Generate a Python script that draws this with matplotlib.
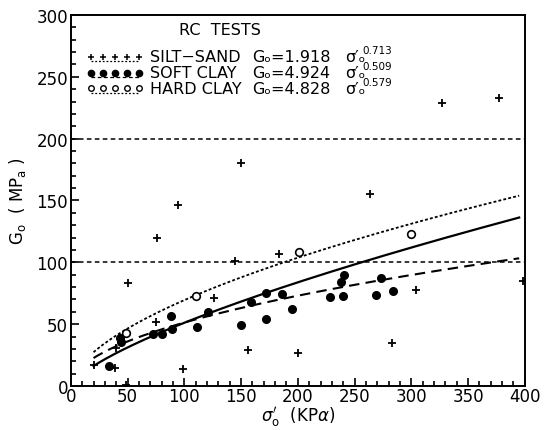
import numpy as np
import matplotlib
matplotlib.use('Agg')
import matplotlib.pyplot as plt
from matplotlib.ticker import MultipleLocator

plt.rcParams['font.family'] = 'DejaVu Sans'
plt.rcParams['mathtext.fontset'] = 'dejavusans'

# RC test results, G0 (MPa) vs effective confining stress (kPa)
silt_x = [20, 39, 40, 49, 50, 75, 76, 94, 99, 126, 145, 150, 156, 183, 200, 264, 283, 304, 327, 377, 398]
silt_y = [17, 14.5, 31, 1, 83, 52, 120, 146, 13.5, 71, 101, 180, 29, 107, 27, 155, 35, 78, 229, 233, 85]

soft_x = [34, 43, 44, 72, 80, 88, 89, 111, 121, 150, 159, 172, 172, 186, 195, 228, 238, 241, 240, 269, 273, 284]
soft_y = [16.5, 39, 36, 42, 42, 56.5, 46, 47.5, 59.5, 49, 68, 54, 75, 74.5, 62, 72, 84, 89.5, 73, 73.5, 87, 77]

hard_x = [49, 110, 201, 300]
hard_y = [43, 73, 108, 123]

# fitted power laws G0 = a * sigma'^b
names = ['SILT\u2212SAND', 'SOFT CLAY', 'HARD CLAY']
coef = [1.918, 4.924, 4.828]
expo = [0.713, 0.509, 0.579]
fit_range = (20, 395)

fig = plt.figure(figsize=(5.49, 4.31), dpi=100)
ax = fig.add_axes([0.129, 0.102, 0.827, 0.861])

ax.axhline(100, color='black', lw=1.1, ls=(0, (3, 2.2)))
ax.axhline(200, color='black', lw=1.1, ls=(0, (3, 2.2)))

s = np.linspace(fit_range[0], fit_range[1], 200)
styles = ['-', (0, (5, 3)), (0, (1.6, 1.2))]
widths = [1.6, 1.5, 1.3]
for a, b, ls, lw in zip(coef, expo, styles, widths):
    ax.plot(s, a * s ** b, color='black', ls=ls, lw=lw)

ax.plot(silt_x, silt_y, '+', color='black', ms=6, mew=1.3, ls='none')
ax.plot(soft_x, soft_y, 'o', color='black', ms=5.5, ls='none')
ax.plot(hard_x, hard_y, 'o', mfc='white', mec='black', mew=1.2, ms=5.5, ls='none')

# key drawn by hand so the equations line up in columns
ax.text(0.328, 0.960, 'RC  TESTS', transform=ax.transAxes, ha='center', va='center', fontsize=11.5)
key_marks = [dict(marker='+', ms=5, mew=1.1, mfc='black'),
             dict(marker='o', ms=4.5, mfc='black'),
             dict(marker='o', ms=4, mfc='white', mew=1)]
key_ls = [(0, (1.5, 1.5)), (0, (3, 2)), (0, (1.5, 1.5))]
rows = [0.887, 0.844, 0.802]
hx = np.linspace(0.045, 0.150, 5)
for yr, name, a, b, mk, kls in zip(rows, names, coef, expo, key_marks, key_ls):
    ax.plot(hx, [yr - 0.012] * 5, color='black', lw=0.9, ls=kls, transform=ax.transAxes)
    ax.plot(hx, [yr] * 5, color='black', mec='black', ls='none', transform=ax.transAxes, **mk)
    ax.text(0.174, yr, name, transform=ax.transAxes, va='center', fontsize=11.5)
    ax.text(0.399, yr, 'G\u2092=%.3f' % a, transform=ax.transAxes, va='center', fontsize=11.5)
    ax.text(0.605, yr, '\u03c3\u2032\u2092', transform=ax.transAxes, va='center', fontsize=11.5)
    ax.text(0.643, yr + 0.018, '%.3f' % b, transform=ax.transAxes, va='center', fontsize=7.5)

ax.set_xlim(0, 400)
ax.set_ylim(0, 300)
ax.xaxis.set_major_locator(MultipleLocator(50))
ax.xaxis.set_minor_locator(MultipleLocator(10))
ax.yaxis.set_major_locator(MultipleLocator(50))
ax.yaxis.set_minor_locator(MultipleLocator(10))
ax.tick_params(which='both', direction='in', labelsize=12, width=1.2)
ax.tick_params(axis='x', pad=1)
ax.tick_params(axis='y', pad=2)
ax.tick_params(which='major', length=6)
ax.tick_params(which='minor', length=3.5)
for sp in ax.spines.values():
    sp.set_linewidth(1.4)

ax.set_xlabel(r"$\sigma_\mathrm{o}'$  (KP$\alpha$)", fontsize=12, labelpad=-1)
ax.set_ylabel(r'G$_\mathrm{o}$  ( MP$_\mathrm{a}$ )', fontsize=12, labelpad=6)

fig.savefig('out.png', dpi=100, facecolor='white')
